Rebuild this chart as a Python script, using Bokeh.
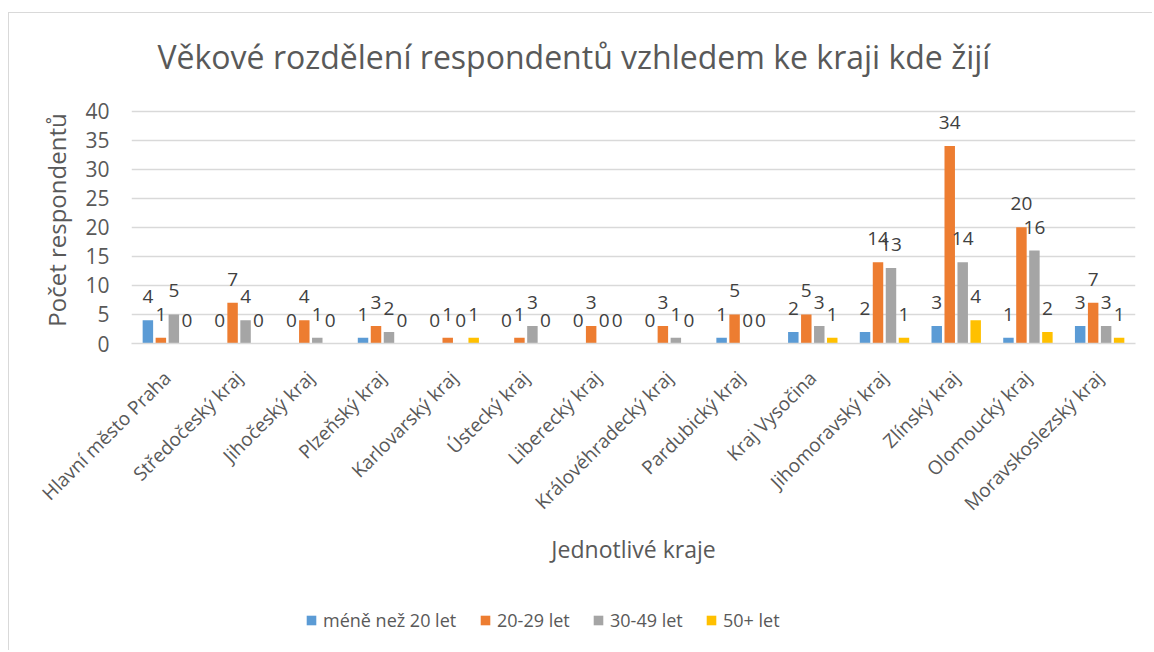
import math
from bokeh.plotting import figure
from bokeh.layouts import column
from bokeh.core.properties import value
from bokeh.models import (ColumnDataSource, FactorRange, Range1d, FixedTicker,
                          LabelSet, Legend, LegendItem)
from bokeh.transform import dodge
from bokeh.embed import file_html
from bokeh.resources import INLINE

regions = ["Hlavní město Praha", "Středočeský kraj", "Jihočeský kraj", "Plzeňský kraj",
           "Karlovarský kraj", "Ústecký kraj", "Liberecký kraj", "Královéhradecký kraj",
           "Pardubický kraj", "Kraj Vysočina", "Jihomoravský kraj", "Zlínský kraj",
           "Olomoucký kraj", "Moravskoslezský kraj"]
under20 = [4, 0, 0, 1, 0, 0, 0, 0, 1, 2, 2, 3, 1, 3]
age20_29 = [1, 7, 4, 3, 1, 1, 3, 3, 5, 5, 14, 34, 20, 7]
age30_49 = [5, 4, 1, 2, 0, 3, 0, 1, 0, 3, 13, 14, 16, 3]
age50plus = [0, 0, 0, 0, 1, 0, 0, 0, 0, 1, 1, 4, 2, 1]
series_names = ["méně než 20 let", "20-29 let", "30-49 let", "50+ let"]
series_cols = ["u20", "a2029", "a3049", "a50"]
colors = ["#5B9BD5", "#ED7D31", "#A5A5A5", "#FFC000"]
y_ticks = [0, 5, 10, 15, 20, 25, 30, 35, 40]

title_text = "Věkové rozdělení respondentů vzhledem ke kraji kde žijí"
y_title = "Počet respondentů"
x_title = "Jednotlivé kraje"

FONT = "Open Sans"
TXT = "#595959"

data = dict(x=regions, u20=under20, a2029=age20_29, a3049=age30_49, a50=age50plus)
for c in series_cols:
    data[c + "_lbl"] = [str(v) for v in data[c]]
source = ColumnDataSource(data)

W = 1143
p = figure(x_range=FactorRange(*regions), y_range=Range1d(0, 42.5),
           width=W, height=587, output_backend="svg", toolbar_location=None,
           min_border_left=122, min_border_right=17, min_border_top=83,
           min_border_bottom=257)

p.title.text = title_text
p.title.text_font = FONT
p.title.text_font_size = "32px"
p.title.text_font_style = "normal"
p.title.text_color = TXT
p.title.align = "left"
p.title.offset = 26
p.title.standoff = 38

p.outline_line_color = None
p.background_fill_color = "white"
p.border_fill_color = "white"

step = 0.181
offsets = [-1.5 * step, -0.5 * step, 0.5 * step, 1.5 * step]
bar_w = 0.146

for col, off, color in zip(series_cols, offsets, colors):
    p.vbar(x=dodge("x", off, range=p.x_range), top=col, width=bar_w, source=source,
           fill_color=color, line_color=None)
    labels = LabelSet(x=dodge("x", off, range=p.x_range), y=col, text=col + "_lbl",
                      source=source, text_align="center", text_baseline="alphabetic",
                      y_offset=17, text_font=value(FONT), text_font_size=value("19px"),
                      text_color="#404040")
    p.add_layout(labels)

# y axis
p.yaxis.ticker = FixedTicker(ticks=y_ticks)
p.yaxis.axis_line_color = None
p.yaxis.major_tick_line_color = None
p.yaxis.minor_tick_line_color = None
p.yaxis.major_label_standoff = 16
p.yaxis.major_label_text_font = FONT
p.yaxis.major_label_text_font_size = "21px"
p.yaxis.major_label_text_color = TXT
p.yaxis.axis_label = y_title
p.yaxis.axis_label_text_font = FONT
p.yaxis.axis_label_text_font_size = "24px"
p.yaxis.axis_label_text_font_style = "normal"
p.yaxis.axis_label_text_color = TXT
p.yaxis.axis_label_standoff = 9

# x axis
p.xaxis.axis_line_color = "#d9d9d9"
p.xaxis.axis_line_width = 1.5
p.xaxis.major_tick_line_color = None
p.xaxis.minor_tick_line_color = None
p.xaxis.major_label_orientation = math.pi / 4
p.xaxis.major_label_standoff = 25
p.xaxis.major_label_text_font = FONT
p.xaxis.major_label_text_font_size = "19px"
p.xaxis.major_label_text_color = TXT
p.xaxis.axis_label = x_title
p.xaxis.axis_label_text_font = FONT
p.xaxis.axis_label_text_font_size = "23px"
p.xaxis.axis_label_text_font_style = "normal"
p.xaxis.axis_label_text_color = TXT
p.xaxis.axis_label_standoff = 5

p.xgrid.grid_line_color = None
p.ygrid.grid_line_color = "#d9d9d9"
p.ygrid.grid_line_width = 1.4
p.ygrid.ticker = FixedTicker(ticks=y_ticks)

# legend strip (frame aligned with the chart frame by the column layout)
lf = figure(width=W, height=50, x_range=Range1d(0, 1), y_range=Range1d(0, 1),
            output_backend="svg", toolbar_location=None, min_border=0,
            min_border_left=0, min_border_right=0, min_border_top=0, min_border_bottom=0)
lf.axis.visible = False
lf.grid.visible = False
lf.outline_line_color = None
lf.border_fill_color = "white"
legend_x = [168, 342, 455, 568]
for name, color, lx in zip(series_names, colors, legend_x):
    # one off-range square per series, only so that its legend swatch is drawn
    r = lf.scatter(x=[-5], y=[-5], marker="square", size=10, fill_color=color, line_color=None)
    lg = Legend(items=[LegendItem(label=name, renderers=[r])],
                orientation="horizontal", location=(lx, 18),
                glyph_width=24, glyph_height=24, label_standoff=0, spacing=0,
                padding=0, margin=0, border_line_color=None, background_fill_alpha=0,
                label_text_font=FONT, label_text_font_size="18px", label_text_color=TXT,
                label_height=20)
    lf.add_layout(lg, "center")

layout = column(p, lf, spacing=0)
layout.styles = {"border-left": "1px solid #d9d9d9", "border-top": "1px solid #d9d9d9",
                 "margin-left": "8px", "margin-top": "12px"}

open("out.html", "w").write(file_html(layout, INLINE))
